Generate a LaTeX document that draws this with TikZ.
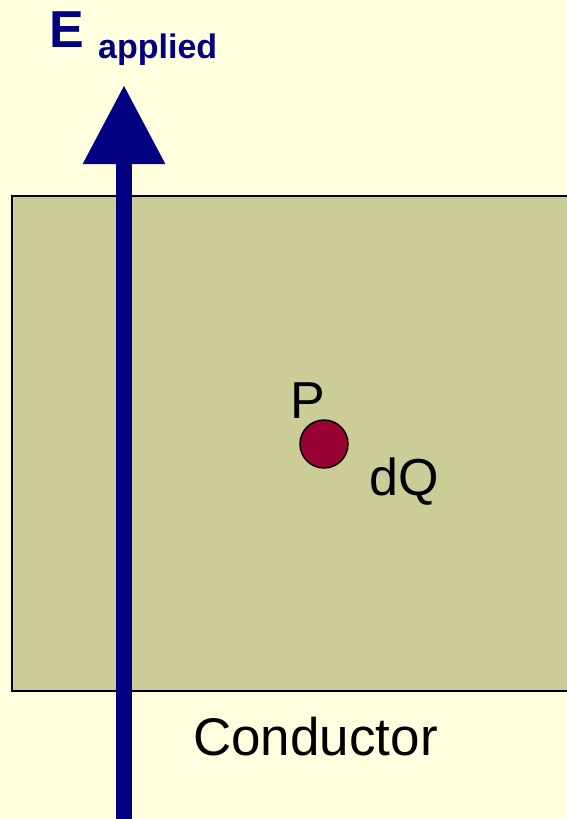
\documentclass[tikz,border=0pt]{standalone}
\usepackage{fontspec}
\setmainfont{Liberation Sans}
\usetikzlibrary{arrows.meta,positioning}
\definecolor{paper}{HTML}{FFFFE0}
\definecolor{khaki}{HTML}{CCCC99}
\definecolor{fieldblue}{HTML}{000080}
\definecolor{chargered}{HTML}{990033}

\begin{document}
\begin{tikzpicture}[
    x=1pt, y=-1pt,
    label/.style={inner sep=0pt, anchor=base west, font=\fontsize{52}{60}\selectfont},
    fieldlabel/.style={inner sep=0pt, anchor=base west, text=fieldblue, font=\bfseries},
    slab/.style={draw=black, line width=1.5pt, fill=khaki},
    charge/.style={draw=black, line width=1.5pt, circle, minimum size=48pt, inner sep=0pt, fill=chargered},
    field/.style={-{Triangle[width=78pt, length=79pt]}, line width=16pt, draw=fieldblue},
]

% Page
\fill[paper] (0,0) rectangle (567,819);
\useasboundingbox (0,0) rectangle (567,819);
\clip (0,0) rectangle (567,819);

% Conductor
\draw[slab] (12,196) rectangle (580,691);
\node[label, font=\fontsize{53}{60}\selectfont] (conductor) at (193,755) {Conductor};

% Point charge
\node[charge] (dq) at (324,444) {};
\node[label] (p) at (290,418) {P};
\node[label] (dqlabel) at (369,495) {dQ};

% Applied field
\coordinate (fieldstart) at (124,830);
\coordinate (fieldtip) at (124,85);
\draw[field] (fieldstart) -- (fieldtip);
\node[fieldlabel, font=\bfseries\fontsize{52}{60}\selectfont] (e) at (49,47) {E};
\node[fieldlabel, font=\bfseries\fontsize{34}{40}\selectfont] (applied) at (98,58) {applied};

\end{tikzpicture}
\end{document}
